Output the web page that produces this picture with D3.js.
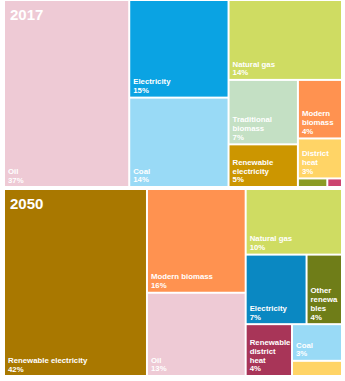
<!DOCTYPE html>
<html>
<head>
<meta charset="utf-8">
<script src="https://cdn.jsdelivr.net/npm/d3@7"></script>
<style>
  body { margin: 0; background: #fff; }
  text { font-family: "Liberation Sans", Arial, sans-serif; font-weight: bold; fill: #fff; }
</style>
</head>
<body>
<svg width="345" height="381"></svg>
<script>
// Shares of final energy use (percent)
var names2017 = ["Oil", "Electricity", "Coal", "Natural gas", "Traditional biomass",
                 "Renewable electricity", "Modern biomass", "District heat",
                 "Other renewables", "Renewable district heat"];
var values2017 = [37.2, 15.4, 14.1, 14.4, 7.1, 4.7, 4.1, 2.8, 0.4, 0.2];
var colors2017 = ["#eecad5", "#0aa3e3", "#99daf6", "#cfdc62", "#c4e0c4",
                  "#cc9600", "#ff9250", "#ffd466", "#8b9b25", "#cc4470"];

var names2050 = ["Renewable electricity", "Modern biomass", "Oil", "Natural gas", "Electricity",
                 "Other renewables", "Renewable district heat", "Coal", "District heat"];
var values2050 = [42.3, 16.2, 13.0, 10.0, 6.7, 3.9, 3.8, 2.9, 1.2];
var colors2050 = ["#a97800", "#ff9250", "#eecad5", "#cfdc62", "#0a88c2",
                  "#6f7d18", "#a83558", "#99daf6", "#ffd466"];

var years = ["2017", "2050"];

var svg = d3.select("svg"),
    panelWidth = 336,
    panelHeight = 185,
    fontSize = 7.8,
    lineHeight = 8.8,
    format = d3.format(".0f");

// canvas used only to measure label widths for wrapping
var ctx = document.createElement("canvas").getContext("2d");
ctx.font = "bold " + fontSize + "px 'Liberation Sans', Arial, sans-serif";

function wrap(label, maxWidth) {
  var words = label.split(" "), lines = [], line = "";
  words.forEach(function(word) {
    var test = line ? line + " " + word : word;
    if (ctx.measureText(test).width <= maxWidth) { line = test; return; }
    if (line) lines.push(line);
    // word alone too long: break it by characters
    line = "";
    word.split("").forEach(function(ch) {
      if (line && ctx.measureText(line + ch).width > maxWidth) { lines.push(line); line = ch; }
      else line += ch;
    });
  });
  if (line) lines.push(line);
  return lines;
}

function drawPanel(names, values, colors, year, top) {
  var root = d3.hierarchy({children: names.map(function(n, i) { return {name: n, value: values[i], color: colors[i]}; })})
    .sum(function(d) { return d.value || 0; });

  d3.treemap()
    .tile(d3.treemapSquarify.ratio(1))
    .size([panelWidth, panelHeight])
    .paddingInner(2)(root);

  var g = svg.append("g").attr("transform", "translate(5," + top + ")");

  var cell = g.selectAll(".cell")
    .data(root.leaves())
    .enter().append("g")
    .attr("class", "cell")
    .attr("transform", function(d) { return "translate(" + d.x0 + "," + d.y0 + ")"; });

  cell.append("rect")
    .attr("width", function(d) { return d.x1 - d.x0; })
    .attr("height", function(d) { return d.y1 - d.y0; })
    .attr("fill", function(d) { return d.data.color; });

  // labels sit at the bottom left of each tile
  cell.each(function(d) {
    var w = d.x1 - d.x0, h = d.y1 - d.y0;
    var lines = wrap(d.data.name, w - 2.5).concat([format(d.data.value) + "%"]);
    if (lines.length * lineHeight + 4 > h) return;
    var t = d3.select(this).append("text")
      .style("font-size", fontSize + "px");
    lines.forEach(function(l, i) {
      t.append("tspan")
        .attr("x", 3)
        .attr("y", h - 3.5 - (lines.length - 1 - i) * lineHeight)
        .text(l);
    });
  });

  // year title in the first tile
  g.append("text")
    .attr("x", root.leaves()[0].x0 + 5)
    .attr("y", 18.5)
    .style("font-size", "15px")
    .text(year);
}

drawPanel(names2017, values2017, colors2017, years[0], 1);
drawPanel(names2050, values2050, colors2050, years[1], 190);
</script>
</body>
</html>
